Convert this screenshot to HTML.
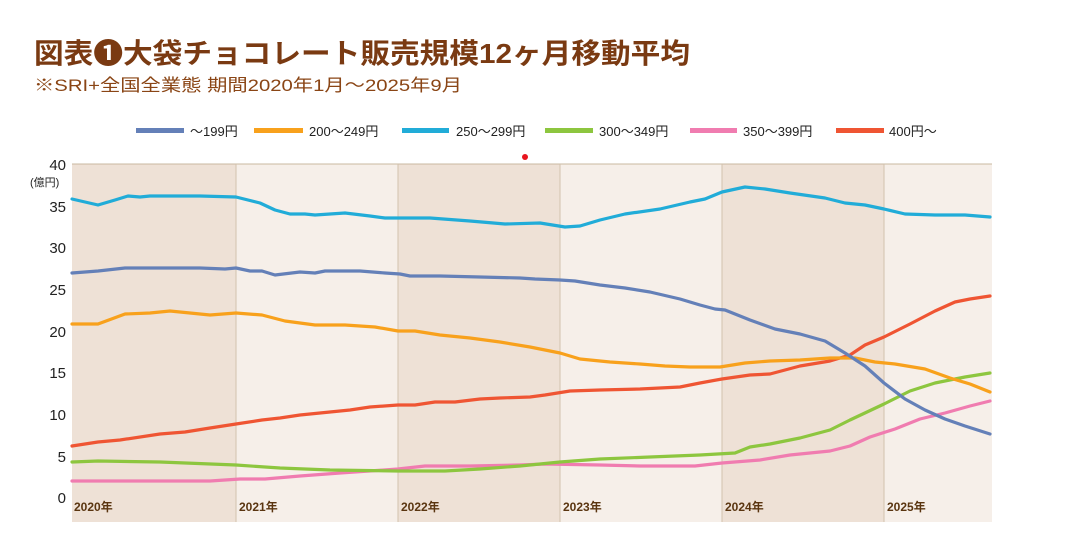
<!DOCTYPE html>
<html><head><meta charset="utf-8"><style>
body{margin:0;width:1078px;height:559px;background:#fff;overflow:hidden;font-family:"Liberation Sans","Noto Sans CJK JP",sans-serif;}
</style></head><body>
<svg width="1078" height="559" xmlns="http://www.w3.org/2000/svg" style="position:absolute;left:0;top:0">
<text x="34" y="63" font-size="28" font-weight="bold" fill="#7a3a12" textLength="656" lengthAdjust="spacingAndGlyphs" font-family="Liberation Sans,Noto Sans CJK JP,sans-serif">図表❶大袋チョコレート販売規模12ヶ月移動平均</text>
<text x="34" y="91" font-size="17" fill="#8a4515" textLength="428" lengthAdjust="spacingAndGlyphs" font-family="Liberation Sans,Noto Sans CJK JP,sans-serif">※SRI+全国全業態 期間2020年1月～2025年9月</text>
<g font-size="13" fill="#222" font-family="Liberation Sans,Noto Sans CJK JP,sans-serif">
<rect x="136" y="128" width="48" height="5" fill="#6480b8"/><text x="190" y="136">～199円</text>
<rect x="254" y="128" width="49" height="5" fill="#f8a11c"/><text x="309" y="136">200～249円</text>
<rect x="402" y="128" width="47" height="5" fill="#21acd8"/><text x="456" y="136">250～299円</text>
<rect x="545" y="128" width="48" height="5" fill="#8dc63f"/><text x="599" y="136">300～349円</text>
<rect x="690" y="128" width="47" height="5" fill="#f07cb0"/><text x="743" y="136">350～399円</text>
<rect x="836" y="128" width="48" height="5" fill="#ef5533"/><text x="889" y="136">400円～</text>
</g>
<circle cx="525" cy="157" r="3" fill="#e8141e"/>
<rect x="72" y="164" width="164" height="358" fill="#eee1d6"/>
<rect x="236" y="164" width="162" height="358" fill="#f6efe9"/>
<rect x="398" y="164" width="162" height="358" fill="#eee1d6"/>
<rect x="560" y="164" width="162" height="358" fill="#f6efe9"/>
<rect x="722" y="164" width="162" height="358" fill="#eee1d6"/>
<rect x="884" y="164" width="108" height="358" fill="#f6efe9"/>
<line x1="72" y1="164" x2="992" y2="164" stroke="#c9b8a0" stroke-width="1"/>
<g stroke="#d2c2ad" stroke-width="1">
<line x1="236" y1="164" x2="236" y2="522"/><line x1="398" y1="164" x2="398" y2="522"/><line x1="560" y1="164" x2="560" y2="522"/><line x1="722" y1="164" x2="722" y2="522"/><line x1="884" y1="164" x2="884" y2="522"/>
</g>
<g font-size="15" fill="#222" text-anchor="end" font-family="Liberation Sans,sans-serif">
<text x="66" y="170">40</text><text x="66" y="212">35</text><text x="66" y="253">30</text><text x="66" y="295">25</text><text x="66" y="337">20</text><text x="66" y="378">15</text><text x="66" y="420">10</text><text x="66" y="462">5</text><text x="66" y="503">0</text>
</g>
<text x="30" y="186" font-size="11" fill="#222" font-family="Liberation Sans,Noto Sans CJK JP,sans-serif">(億円)</text>
<g font-size="12" font-weight="bold" fill="#5a3510" font-family="Liberation Sans,Noto Sans CJK JP,sans-serif">
<text x="74" y="511">2020年</text><text x="239" y="511">2021年</text><text x="401" y="511">2022年</text><text x="563" y="511">2023年</text><text x="725" y="511">2024年</text><text x="887" y="511">2025年</text>
</g>
<g fill="none" stroke-width="3.2" stroke-linejoin="round" stroke-linecap="round">
<polyline stroke="#ef5533" points="72,446 98,442 120,440 160,434 185,432 210,428 236,424 262,420 280,418 300,415 330,412 350,410 370,407 398,405 415,405 435,402 455,402 480,399 500,398 530,397 545,395 570,391 600,390 640,389 680,387 700,383 722,379 750,375 770,374 800,366 830,361 850,355 865,345 884,337 910,324 935,311 955,302 970,299 990,296"/>
<polyline stroke="#f07cb0" points="72,481 150,481 210,481 240,479 265,479 300,476 340,473 398,469 425,466 470,466 520,465 545,464 600,465 640,466 695,466 722,463 760,460 790,455 830,451 850,446 870,437 895,429 920,419 945,413 970,406 990,401"/>
<polyline stroke="#8dc63f" points="72,462 98,461 160,462 236,465 280,468 330,470 398,471 445,471 480,469 520,466 560,462 600,459 650,457 700,455 735,453 750,447 770,444 800,438 830,430 850,420 884,404 910,391 935,383 965,377 990,373"/>
<polyline stroke="#f8a11c" points="72,324 98,324 125,314 150,313 170,311 190,313 210,315 236,313 262,315 285,321 315,325 345,325 375,327 398,331 415,331 440,335 470,338 500,342 530,347 560,353 580,359 610,362 640,364 665,366 690,367 720,367 745,363 770,361 800,360 830,358 855,358 875,362 895,364 925,369 950,378 970,384 990,392"/>
<polyline stroke="#6480b8" points="72,273 98,271 125,268 150,268 200,268 225,269 236,268 250,271 262,271 275,275 300,272 315,273 325,271 360,271 385,273 400,274 410,276 440,276 480,277 520,278 535,279 560,280 575,281 600,285 625,288 650,292 680,299 700,305 715,309 725,310 750,320 775,329 800,334 825,341 845,353 865,366 884,383 905,399 925,410 945,419 965,426 990,434"/>
<polyline stroke="#21acd8" points="72,199 98,205 115,200 128,196 140,197 150,196 200,196 236,197 260,203 275,210 290,214 305,214 315,215 345,213 370,216 385,218 400,218 430,218 470,221 505,224 540,223 565,227 580,226 600,220 625,214 660,209 690,202 705,199 722,192 745,187 765,189 790,193 825,198 845,203 865,205 884,209 905,214 935,215 965,215 990,217"/>
</g>
</svg>
</body></html>
